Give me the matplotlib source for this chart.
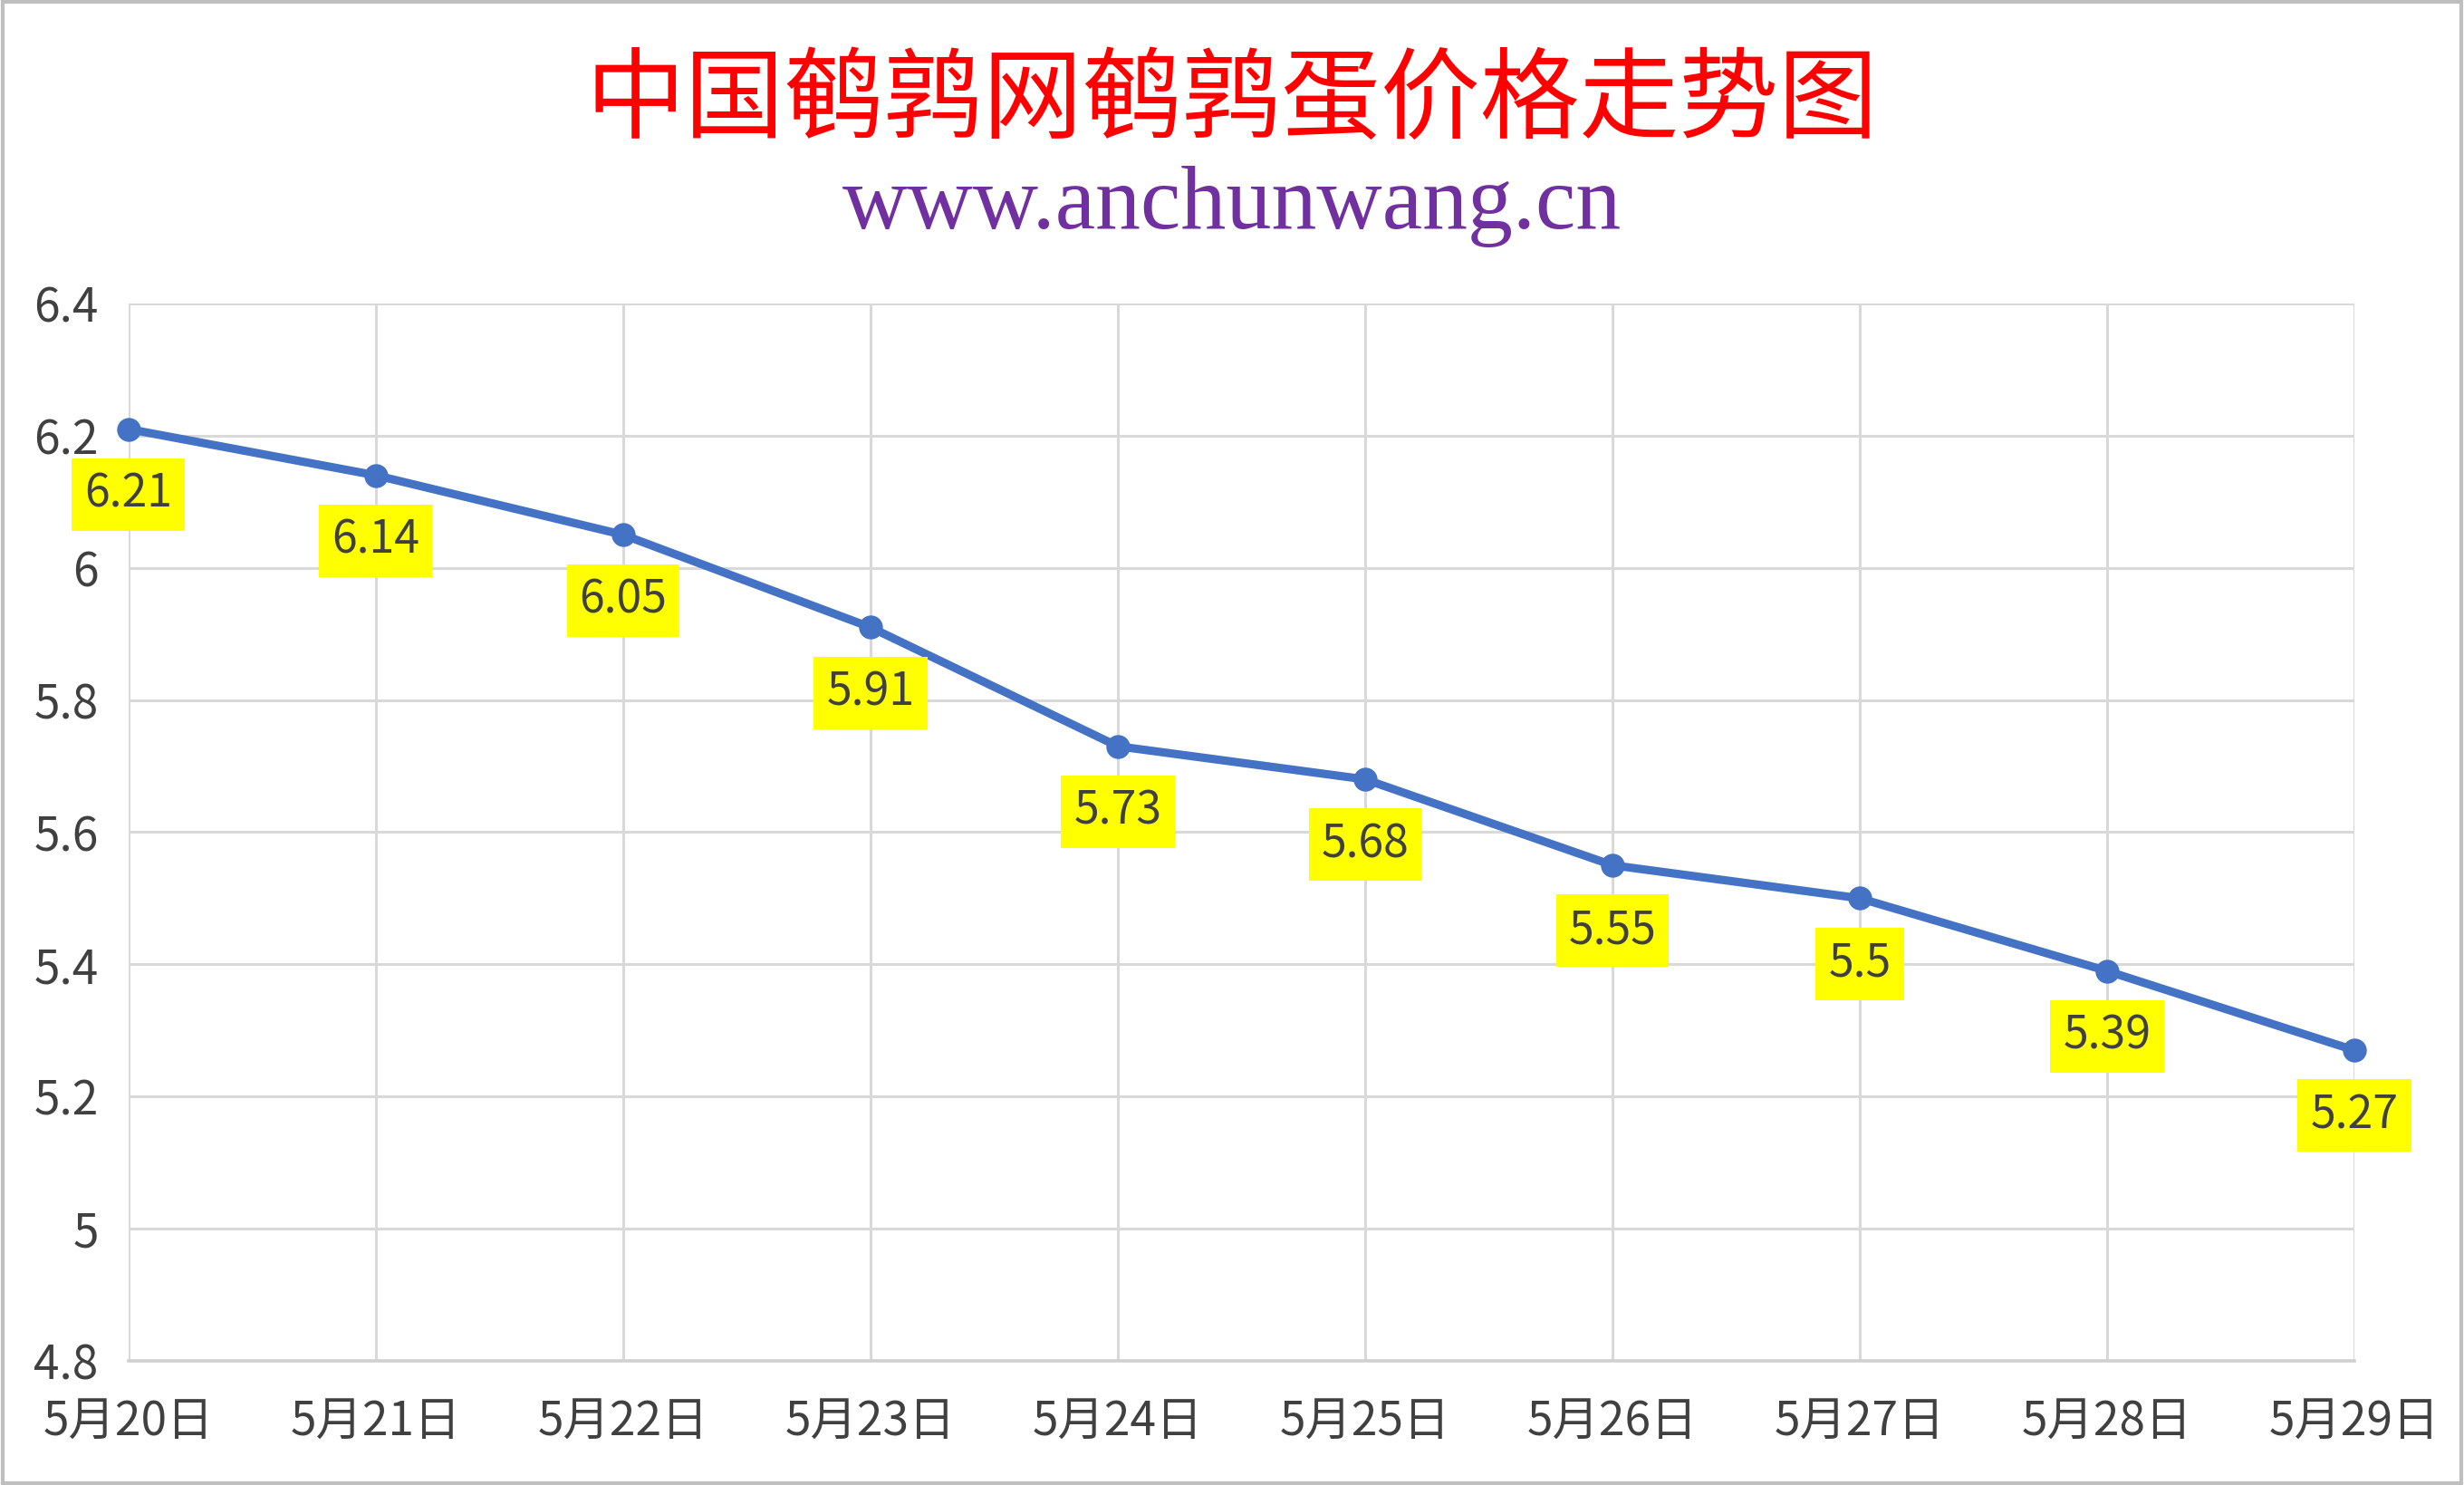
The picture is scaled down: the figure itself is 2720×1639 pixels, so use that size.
import matplotlib
matplotlib.use("Agg")
import matplotlib.pyplot as plt
import matplotlib.ticker as mtick
from matplotlib.patches import Rectangle

# data
dates = ["5月20日", "5月21日", "5月22日", "5月23日", "5月24日",
         "5月25日", "5月26日", "5月27日", "5月28日", "5月29日"]
prices = [6.21, 6.14, 6.05, 5.91, 5.73, 5.68, 5.55, 5.5, 5.39, 5.27]
yticks = [4.8, 5.0, 5.2, 5.4, 5.6, 5.8, 6.0, 6.2, 6.4]

title = "中国鹌鹑网鹌鹑蛋价格走势图"
subtitle = "www.anchunwang.cn"

plt.rcParams['font.family'] = ['Noto Sans CJK SC', 'DejaVu Sans']
text_col = "#404040"
line_col = "#4472C4"
grid_col = "#D9D9D9"

fig = plt.figure(figsize=(13.6, 8.195), dpi=200)
ax = fig.add_axes([0.0522, 0.0836, 0.9033, 0.712])

xs = list(range(len(dates)))
ax.plot(xs, prices, color=line_col, linewidth=3.3, marker='o',
        markersize=8.5, zorder=3, clip_on=False)

for x, y in zip(xs, prices):
    ax.annotate("%g" % y, (x, y), xytext=(0, -26), textcoords="offset points",
                ha="center", va="center", fontsize=18, color=text_col, zorder=4,
                bbox=dict(boxstyle="square,pad=0.28", fc="#FFFF00", ec="none"))

ax.set_xlim(0, len(dates) - 1)
ax.set_ylim(4.8, 6.4)
ax.set_xticks(xs)
ax.set_xticklabels(dates)
ax.set_yticks(yticks)
ax.yaxis.set_major_formatter(mtick.FuncFormatter(lambda v, p: "%g" % round(v, 1)))

ax.grid(True, color=grid_col, linewidth=1.1)
ax.set_axisbelow(True)
for s in ["top", "right", "left"]:
    ax.spines[s].set_visible(False)
ax.spines["bottom"].set_color("#D0D0D0")
ax.spines["bottom"].set_linewidth(1.3)
ax.tick_params(axis="both", length=0, colors=text_col)
ax.tick_params(axis="y", pad=12, labelsize=18.5)
ax.tick_params(axis="x", pad=15, labelsize=18.5)

fig.text(0.5, 0.931, title, ha="center", va="center", fontsize=39.5,
         color="#FF0000")
fig.text(0.5, 0.861, subtitle, ha="center", va="center", fontsize=36,
         color="#7030A0", family="Liberation Serif")

# outer frame
fig.patches.append(Rectangle((0.001, 0.001), 0.998, 0.998, transform=fig.transFigure,
                             fill=False, edgecolor="#BFBFBF", linewidth=1.5))

fig.savefig("out.png", dpi=200, facecolor="white")
